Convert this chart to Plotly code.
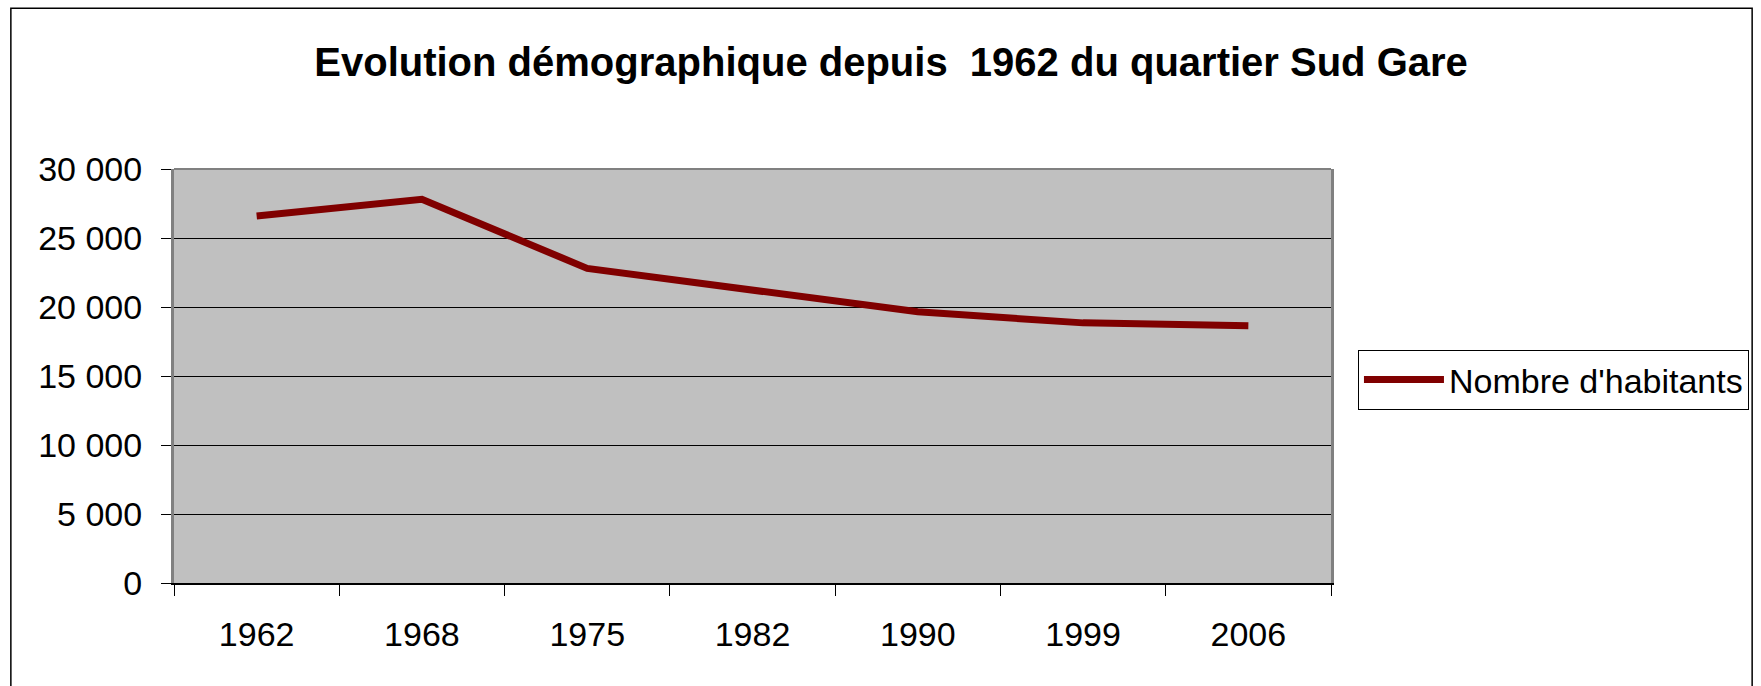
import plotly.graph_objects as go

years = ["1962", "1968", "1975", "1982", "1990", "1999", "2006"]
habitants = [26600, 27800, 22800, 21200, 19650, 18850, 18650]
series_name = "Nombre d'habitants"
title_text = "Evolution démographique depuis  1962 du quartier Sud Gare"
y_ticks = [0, 5000, 10000, 15000, 20000, 25000, 30000]

FONT = "Liberation Sans, Arial, sans-serif"

fig = go.Figure()
fig.add_trace(go.Scatter(
    x=years, y=habitants, mode="lines", name=series_name,
    line=dict(color="#800000", width=7),
))

fig.update_layout(
    width=1761, height=686,
    margin=dict(l=174, r=428, t=169, b=103, pad=0),
    paper_bgcolor="white",
    plot_bgcolor="#C0C0C0",
    separators=", ",
    font=dict(family=FONT, size=34, color="black"),
    title=dict(text="<b>" + title_text + "</b>", x=0.506, xanchor="center",
               y=0.91, yanchor="middle", xref="container", yref="container",
               font=dict(family=FONT, size=40, color="black")),
    showlegend=True,
    legend=dict(x=1.0233, xanchor="left", y=0.563, yanchor="top",
                bordercolor="black", borderwidth=1, bgcolor="white",
                itemwidth=80,
                font=dict(family=FONT, size=34, color="black")),
)

fig.update_xaxes(
    type="category", range=[-0.5, len(years) - 0.5],
    showgrid=False, zeroline=False,
    showline=True, linecolor="black", linewidth=2,
    ticks="outside", tickson="boundaries", ticklen=11, tickcolor="black", tickwidth=1,
    ticklabelstandoff=20,
    tickfont=dict(family=FONT, size=34, color="black"),
)
fig.update_yaxes(
    range=[0, 30000], tickvals=y_ticks, tickformat=",d",
    showgrid=True, gridcolor="black", gridwidth=1, zeroline=False,
    showline=True, linecolor="#808080", linewidth=3, mirror=True,
    ticks="outside", ticklen=10, tickcolor="black", tickwidth=1,
    ticklabelstandoff=12,
    tickfont=dict(family=FONT, size=34, color="black"),
)

# plot-area top edge and outer chart border
fig.add_shape(type="line", xref="paper", yref="paper", x0=0, x1=1, y0=1, y1=1,
              line=dict(color="#808080", width=2), layer="above")
fig.add_shape(type="rect", xref="paper", yref="paper",
              x0=-0.141, x1=1.364, y0=-0.3, y1=1.388,
              line=dict(color="black", width=1.5), fillcolor="rgba(0,0,0,0)", layer="below")

fig.write_html("out.html", config={"displayModeBar": False},
               post_script="document.body.style.margin='0';document.body.style.overflow='hidden';")
